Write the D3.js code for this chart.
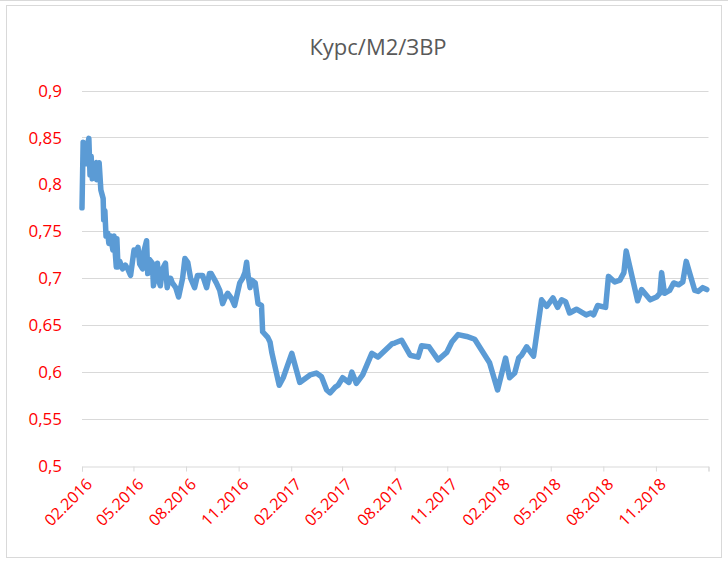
<!DOCTYPE html>
<html>
<head>
<meta charset="utf-8">
<script src="https://cdn.jsdelivr.net/npm/d3@7"></script>
<style>
  body { margin: 0; background: #fff; }
  svg { display: block; }
</style>
</head>
<body>
<div id="chart"></div>
<script>
'use strict';

/* data */
var title = 'Курс/М2/ЗВР';

var dates = [
  '2016-02-01','2016-02-03','2016-02-05','2016-02-07','2016-02-09','2016-02-10','2016-02-13','2016-02-15',
  '2016-02-17','2016-02-19','2016-02-22','2016-02-26','2016-02-27','2016-03-02','2016-03-05','2016-03-09',
  '2016-03-10','2016-03-12','2016-03-14','2016-03-17','2016-03-19','2016-03-22','2016-03-26','2016-03-28',
  '2016-04-01','2016-04-02','2016-04-04','2016-04-07','2016-04-12','2016-04-17','2016-04-21','2016-04-26',
  '2016-05-02','2016-05-05','2016-05-09','2016-05-12','2016-05-17','2016-05-19','2016-05-24','2016-05-26',
  '2016-05-29','2016-06-03','2016-06-05','2016-06-09','2016-06-12','2016-06-14','2016-06-17','2016-06-21',
  '2016-06-26','2016-06-29','2016-07-02','2016-07-05','2016-07-08','2016-07-14','2016-07-19','2016-07-26',
  '2016-07-30','2016-08-04','2016-08-09','2016-08-16','2016-08-21','2016-08-30','2016-09-06','2016-09-11',
  '2016-09-14','2016-09-23','2016-09-29','2016-10-04','2016-10-09','2016-10-13','2016-10-20','2016-10-25',
  '2016-11-03','2016-11-08','2016-11-12','2016-11-15','2016-11-17','2016-11-21','2016-11-24','2016-11-30',
  '2016-12-05','2016-12-11','2016-12-13','2016-12-22','2016-12-26','2016-12-29',
  '2017-01-11','2017-01-18','2017-02-02','2017-02-16','2017-03-06','2017-03-17','2017-03-26','2017-04-04',
  '2017-04-10','2017-04-19','2017-04-24','2017-05-02','2017-05-13','2017-05-18','2017-05-26','2017-06-06',
  '2017-06-22','2017-07-03','2017-07-27','2017-08-01','2017-08-13','2017-08-28','2017-09-11','2017-09-17',
  '2017-09-30','2017-10-16','2017-10-31','2017-11-09','2017-11-20','2017-12-05','2017-12-19',
  '2018-01-14','2018-01-28','2018-02-11','2018-02-18','2018-02-27','2018-03-06','2018-03-11','2018-03-20',
  '2018-04-01','2018-04-15','2018-04-24','2018-05-05','2018-05-13','2018-05-20','2018-05-27','2018-06-03',
  '2018-06-15','2018-07-02','2018-07-10','2018-07-15','2018-07-22','2018-08-05','2018-08-10','2018-08-21',
  '2018-08-30','2018-09-06','2018-09-10','2018-09-30','2018-10-07','2018-10-22','2018-11-02','2018-11-08',
  '2018-11-11','2018-11-16','2018-11-25','2018-12-02','2018-12-11','2018-12-18','2018-12-24',
  '2019-01-08','2019-01-14','2019-01-22','2019-01-29'
];

var values = [
  0.775,0.845,0.825,0.843,0.822,0.840,0.849,0.810,
  0.830,0.806,0.820,0.823,0.805,0.823,0.794,0.785,
  0.762,0.772,0.745,0.748,0.737,0.745,0.730,0.745,
  0.712,0.742,0.712,0.718,0.710,0.714,0.710,0.703,
  0.730,0.725,0.733,0.715,0.710,0.728,0.740,0.705,
  0.720,0.716,0.692,0.705,0.716,0.698,0.692,0.710,
  0.716,0.690,0.700,0.700,0.695,0.690,0.680,0.700,
  0.721,0.717,0.700,0.690,0.703,0.703,0.690,0.705,
  0.705,0.695,0.687,0.673,0.680,0.684,0.678,0.671,
  0.695,0.700,0.706,0.717,0.705,0.690,0.698,0.695,
  0.673,0.671,0.643,0.637,0.632,0.621,
  0.586,0.594,0.620,0.589,0.597,0.599,0.595,0.581,
  0.578,0.584,0.586,0.594,0.589,0.600,0.588,0.597,
  0.620,0.616,0.630,0.631,0.634,0.618,0.616,0.628,
  0.627,0.613,0.621,0.632,0.640,0.638,0.635,
  0.610,0.581,0.615,0.594,0.599,0.615,0.618,0.627,
  0.617,0.677,0.670,0.679,0.669,0.677,0.675,0.663,
  0.667,0.661,0.663,0.661,0.671,0.669,0.702,0.696,
  0.698,0.706,0.729,0.676,0.688,0.677,0.680,0.684,
  0.706,0.684,0.687,0.695,0.693,0.696,0.718,
  0.687,0.686,0.690,0.688
];

var yTicks = [0.5, 0.55, 0.6, 0.65, 0.7, 0.75, 0.8, 0.85, 0.9];
var xTickDates = ['2016-02-01','2016-05-01','2016-08-01','2016-11-01','2017-02-01','2017-05-01',
  '2017-08-01','2017-11-01','2018-02-01','2018-05-01','2018-08-01','2018-11-01','2019-02-01'];

var width = 728, height = 562;
var parse = d3.timeParse('%Y-%m-%d');
var series = dates.map(function(d, i) { return { date: parse(d), value: values[i] }; });
var tickDates = xTickDates.map(parse);

var svg = d3.select('#chart').append('svg')
  .attr('width', width)
  .attr('height', height);

// chart frame
svg.append('line')
  .attr('x1', 0).attr('x2', width).attr('y1', 0.5).attr('y2', 0.5)
  .attr('stroke', '#d9d9d9');
svg.append('rect')
  .attr('x', 6.5).attr('y', 5.5).attr('width', 715).attr('height', 552)
  .attr('fill', '#fff').attr('stroke', '#d9d9d9');

var x = d3.scaleTime()
  .domain([tickDates[0], tickDates[tickDates.length - 1]])
  .range([82, 708.5]);
var y = d3.scaleLinear().domain([0.5, 0.9]).range([466, 90.5]);

var fmtY = function(v) { return d3.format('.2~f')(v).replace('.', ','); };
var fmtX = d3.timeFormat('%m.%Y');

// gridlines
svg.append('g').selectAll('line')
  .data(yTicks.slice(1))
  .enter().append('line')
  .attr('x1', x.range()[0]).attr('x2', x.range()[1])
  .attr('y1', function(d) { return Math.round(y(d)) + 0.5; })
  .attr('y2', function(d) { return Math.round(y(d)) + 0.5; })
  .attr('stroke', '#d9d9d9')
  .attr('stroke-width', 1);

// y labels
svg.append('g').selectAll('text')
  .data(yTicks)
  .enter().append('text')
  .attr('x', 62)
  .attr('y', function(d) { return y(d); })
  .attr('dy', '0.36em')
  .attr('text-anchor', 'end')
  .attr('fill', '#ff0000')
  .style('font', '17px "Open Sans", sans-serif')
  .text(fmtY);

// x axis
var xAxis = d3.axisBottom(x)
  .tickValues(tickDates)
  .tickSize(5)
  .tickFormat(function(d, i) { return i < tickDates.length - 1 ? fmtX(d) : ''; });

var gx = svg.append('g')
  .attr('transform', 'translate(0,' + (Math.round(y(0.5)) + 0.5) + ')')
  .call(xAxis);
gx.select('.domain').attr('stroke', '#d9d9d9');
gx.selectAll('.tick line').attr('stroke', '#d9d9d9');
gx.selectAll('.tick text')
  .attr('fill', '#ff0000')
  .style('font', '16px "Open Sans", sans-serif')
  .attr('text-anchor', 'end')
  .attr('transform', 'translate(5,13) rotate(-45)')
  .attr('dy', '0.5em')
  .attr('y', 0);

// the line
var line = d3.line()
  .x(function(d) { return x(d.date); })
  .y(function(d) { return y(d.value); });

svg.append('path')
  .datum(series)
  .attr('d', line)
  .attr('fill', 'none')
  .attr('stroke', '#5b9bd5')
  .attr('stroke-width', 5.5)
  .attr('stroke-linejoin', 'round')
  .attr('stroke-linecap', 'round');

// title
svg.append('text')
  .attr('x', 378)
  .attr('y', 55)
  .attr('text-anchor', 'middle')
  .attr('fill', '#595959')
  .style('font', '22px "Open Sans", sans-serif')
  .text(title);
</script>
</body>
</html>
